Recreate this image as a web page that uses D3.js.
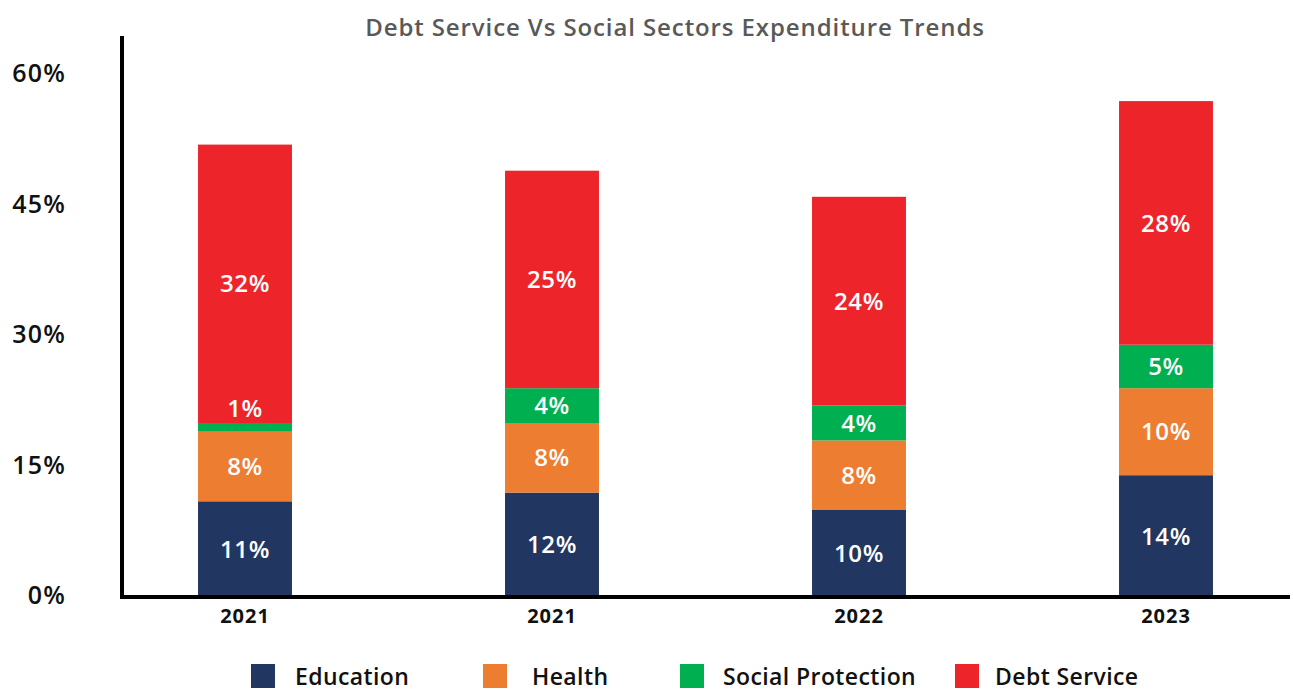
<!DOCTYPE html>
<html>
<head>
<meta charset="utf-8">
<script src="https://cdn.jsdelivr.net/npm/d3@7"></script>
<style>
  html, body { margin: 0; padding: 0; background: #fff; }
  svg { display: block; font-family: "Open Sans", "Noto Sans", sans-serif; }
</style>
</head>
<body>
<svg id="chart" width="1293" height="691"></svg>
<script>
// Year labels for each stacked column (two columns share 2021)
const categories = ["2021", "2021", "2022", "2023"];
const seriesNames = ["Education", "Health", "Social Protection", "Debt Service"];
const seriesColors = ["#213761", "#ed7d31", "#00b050", "#ed252a"];

// Share of expenditure per column, percent
const education = [11, 12, 10, 14];
const health = [8, 8, 8, 10];
const socialProtection = [1, 4, 4, 5];
const debtService = [32, 25, 24, 28];

const yTicks = [0, 15, 30, 45, 60];

const svg = d3.select("#chart");

const x = d3.scaleBand()
  .domain(categories.map((_, i) => i))
  .range([91.5, 1319.5])
  .paddingInner(0.694)
  .paddingOuter(0.347);

const y = d3.scaleLinear().domain([0, 60]).range([597, 75]);

const rows = categories.map((c, i) => ({
  idx: i,
  "Education": education[i],
  "Health": health[i],
  "Social Protection": socialProtection[i],
  "Debt Service": debtService[i]
}));

const stacked = d3.stack().keys(seriesNames)(rows);
const color = d3.scaleOrdinal().domain(seriesNames).range(seriesColors);

// Title
svg.append("text")
  .attr("x", 675).attr("y", 36)
  .attr("text-anchor", "middle")
  .attr("fill", "#595959")
  .attr("font-size", 24)
  .attr("font-weight", 600)
  .attr("letter-spacing", 0.9)
  .text("Debt Service Vs Social Sectors Expenditure Trends");

// Stacked columns
const layer = svg.append("g").selectAll("g")
  .data(stacked).join("g")
  .attr("fill", d => color(d.key));

layer.selectAll("rect")
  .data(d => d).join("rect")
  .attr("x", d => x(d.data.idx))
  .attr("width", x.bandwidth())
  .attr("y", d => y(d[1]))
  .attr("height", d => y(d[0]) - y(d[1]));

// Value labels inside each segment; thin segments get their label lifted above
const labels = svg.append("g")
  .attr("fill", "#fff")
  .attr("font-size", 24)
  .attr("font-weight", 600)
  .attr("letter-spacing", 0.6)
  .attr("text-anchor", "middle");

stacked.forEach(s => {
  s.forEach(d => {
    const h = y(d[0]) - y(d[1]);
    const cy = h < 20 ? y(d[1]) - 15 : (y(d[0]) + y(d[1])) / 2;
    labels.append("text")
      .attr("x", x(d.data.idx) + x.bandwidth() / 2)
      .attr("y", cy)
      .attr("dy", "0.36em")
      .text((d[1] - d[0]) + "%");
  });
});

// Y tick labels
const yAxis = svg.append("g");
yAxis.selectAll("text")
  .data(yTicks).join("text")
  .attr("x", 66)
  .attr("y", d => y(d) - 2)
  .attr("dy", "0.36em")
  .attr("text-anchor", "end")
  .attr("font-size", 25)
  .attr("font-weight", 600)
  .attr("letter-spacing", 1.2)
  .attr("fill", "#111")
  .text(d => d + "%");

// X tick labels
svg.append("g").selectAll("text")
  .data(categories.map((c, i) => ({ c, i }))).join("text")
  .attr("x", d => x(d.i) + x.bandwidth() / 2)
  .attr("y", 616)
  .attr("dy", "0.36em")
  .attr("text-anchor", "middle")
  .attr("font-size", 20)
  .attr("font-weight", 700)
  .attr("letter-spacing", 1)
  .attr("fill", "#111")
  .text(d => d.c);

// Axis lines
svg.append("line")
  .attr("x1", 122).attr("x2", 122)
  .attr("y1", 36).attr("y2", y(0) + 2)
  .attr("stroke", "#000").attr("stroke-width", 4);
svg.append("line")
  .attr("x1", 120).attr("x2", 1290)
  .attr("y1", y(0)).attr("y2", y(0))
  .attr("stroke", "#000").attr("stroke-width", 4);

// Legend
const legendX = [251, 483, 680, 955];
const legendGap = [44, 49, 43, 40];
const legend = svg.append("g");
seriesNames.forEach((name, i) => {
  const g = legend.append("g").attr("transform", `translate(${legendX[i]},664)`);
  g.append("rect").attr("width", 24).attr("height", 24).attr("fill", color(name));
  g.append("text")
    .attr("x", legendGap[i]).attr("y", 21)
    .attr("font-size", 23)
    .attr("font-weight", 600)
    .attr("letter-spacing", 0.4)
    .attr("fill", "#111")
    .text(name);
});
</script>
</body>
</html>
